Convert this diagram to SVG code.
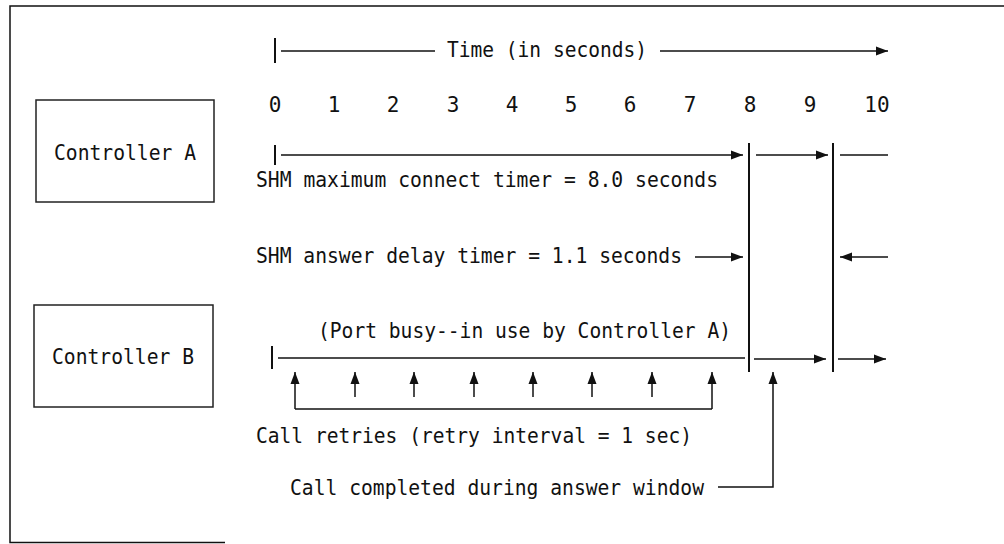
<svg xmlns="http://www.w3.org/2000/svg" width="1004" height="544" viewBox="0 0 1004 544">
  <style>
    text { font-family: "DejaVu Sans Mono", "Liberation Mono", monospace; font-size: 21px; fill: #111; }
    .ln { stroke: #111; stroke-width: 1.5; fill: none; }
    .bar { stroke: #111; stroke-width: 2; fill: none; }
    .box { stroke: #222; stroke-width: 1.5; fill: #fff; }
    .arr { marker-end: url(#head); }
  </style>
  <defs>
    <marker id="head" markerUnits="userSpaceOnUse" markerWidth="13" markerHeight="10" refX="12" refY="5" orient="auto">
      <path d="M0,0.5 L12,5 L0,9.5 z" fill="#111"/>
    </marker>
  </defs>

  <rect width="1004" height="544" fill="#fff"/>
  <!-- page frame -->
  <path d="M1004,6 H10 V542.5 H225" class="ln"/>

  <!-- time scale -->
  <g id="time-axis">
    <line x1="275" y1="38" x2="275" y2="63" class="bar"/>
    <line x1="281" y1="51" x2="435" y2="51" class="ln"/>
    <text x="447" y="57" textLength="200" lengthAdjust="spacingAndGlyphs">Time (in seconds)</text>
    <line x1="660" y1="51" x2="888" y2="51" class="ln arr"/>
    <g text-anchor="middle">
      <text x="275" y="112">0</text>
      <text x="334" y="112">1</text>
      <text x="393" y="112">2</text>
      <text x="453" y="112">3</text>
      <text x="512" y="112">4</text>
      <text x="571" y="112">5</text>
      <text x="630" y="112">6</text>
      <text x="690" y="112">7</text>
      <text x="750" y="112">8</text>
      <text x="810" y="112">9</text>
      <text x="877" y="112">10</text>
    </g>
  </g>

  <g id="controller-a">
    <rect x="36" y="100" width="178" height="102" class="box"/>
    <text x="54" y="160" textLength="142" lengthAdjust="spacingAndGlyphs">Controller A</text>
  </g>

  <g id="controller-b">
    <rect x="34" y="305" width="179" height="102" class="box"/>
    <text x="52" y="364" textLength="142" lengthAdjust="spacingAndGlyphs">Controller B</text>
  </g>

  <g id="labels">
    <text x="256" y="187" textLength="462" lengthAdjust="spacingAndGlyphs">SHM maximum connect timer = 8.0 seconds</text>
    <text x="256" y="263" textLength="426" lengthAdjust="spacingAndGlyphs">SHM answer delay timer = 1.1 seconds</text>
    <text x="318" y="338" textLength="413" lengthAdjust="spacingAndGlyphs">(Port busy--in use by Controller A)</text>
    <text x="256" y="443" textLength="436" lengthAdjust="spacingAndGlyphs">Call retries (retry interval = 1 sec)</text>
    <text x="290" y="495" textLength="414" lengthAdjust="spacingAndGlyphs">Call completed during answer window</text>
  </g>

  <g id="connectors">
    <!-- window boundaries -->
    <line x1="749" y1="143" x2="749" y2="372" class="bar"/>
    <line x1="833" y1="143" x2="833" y2="372" class="bar"/>

    <!-- controller A timeline -->
    <line x1="275" y1="145" x2="275" y2="165" class="bar"/>
    <line x1="281" y1="155" x2="743" y2="155" class="ln arr"/>
    <line x1="756" y1="155" x2="828" y2="155" class="ln arr"/>
    <line x1="840" y1="155" x2="888" y2="155" class="ln"/>

    <!-- answer delay markers -->
    <line x1="695" y1="257" x2="743" y2="257" class="ln arr"/>
    <line x1="888" y1="257" x2="840" y2="257" class="ln arr"/>

    <!-- controller B timeline -->
    <line x1="272" y1="346" x2="272" y2="369" class="bar"/>
    <line x1="278" y1="358" x2="745" y2="358" class="ln"/>
    <line x1="754" y1="359" x2="826" y2="359" class="ln arr"/>
    <line x1="838" y1="359" x2="886" y2="359" class="ln arr"/>

    <!-- call retries -->
    <path d="M295,409 V372" class="ln arr"/>
    <path d="M712,409 V372" class="ln arr"/>
    <line x1="295" y1="409" x2="712" y2="409" class="ln"/>
    <line x1="355" y1="397" x2="355" y2="372" class="ln arr"/>
    <line x1="414" y1="397" x2="414" y2="372" class="ln arr"/>
    <line x1="474" y1="397" x2="474" y2="372" class="ln arr"/>
    <line x1="533" y1="397" x2="533" y2="372" class="ln arr"/>
    <line x1="592" y1="397" x2="592" y2="372" class="ln arr"/>
    <line x1="652" y1="397" x2="652" y2="372" class="ln arr"/>

    <!-- completed call -->
    <path d="M718,487 H773 V372" class="ln arr"/>
  </g>
</svg>
